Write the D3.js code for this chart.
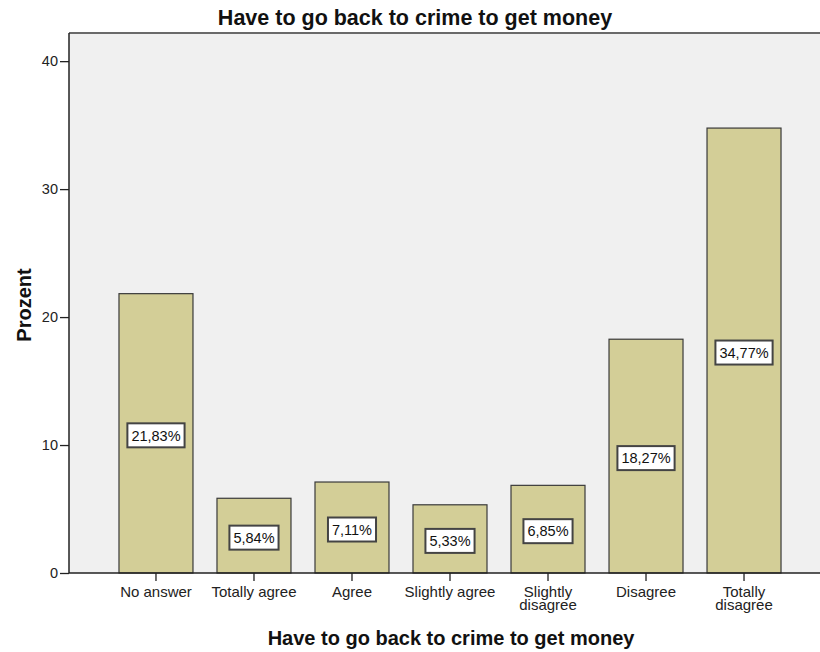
<!DOCTYPE html>
<html>
<head>
<meta charset="utf-8">
<script src="https://cdn.jsdelivr.net/npm/d3@7"></script>
<style>
body{margin:0;background:#fff;}
svg{display:block;font-family:"Liberation Sans",Arial,sans-serif;}
</style>
</head>
<body>
<svg id="chart" width="820" height="652"></svg>
<script>
const categories = ["No answer","Totally agree","Agree","Slightly agree","Slightly disagree","Disagree","Totally disagree"];
const categoryLines = [["No answer"],["Totally agree"],["Agree"],["Slightly agree"],["Slightly","disagree"],["Disagree"],["Totally","disagree"]];
const values = [21.83,5.84,7.11,5.33,6.85,18.27,34.77];
const valueLabels = ["21,83%","5,84%","7,11%","5,33%","6,85%","18,27%","34,77%"];
const yTicks = [0,10,20,30,40];
const title = "Have to go back to crime to get money";
const xTitle = "Have to go back to crime to get money";
const yTitle = "Prozent";

(function(){
const svg = d3.select("#chart");
const pLeft = 69, pRight = 831, pTop = 33, pBottom = 573;

const y = d3.scaleLinear().domain([0, 42.2]).range([pBottom, pTop]);
const x = d3.scaleBand().domain(categories).range([pLeft, pRight]).paddingInner(0.245).paddingOuter(0.51);

// plot background
svg.append("rect").attr("x", pLeft).attr("y", pTop).attr("width", pRight-pLeft).attr("height", pBottom-pTop).attr("fill", "#f0f0f0");
svg.append("line").attr("x1", pLeft).attr("x2", 820).attr("y1", pTop).attr("y2", pTop).attr("stroke", "#6a6a6a").attr("stroke-width", 2);

// bars
svg.selectAll("rect.bar").data(values).enter().append("rect")
  .attr("class","bar")
  .attr("x", (d,i)=>x(categories[i]))
  .attr("y", d=>y(d))
  .attr("width", x.bandwidth())
  .attr("height", d=>pBottom - y(d))
  .attr("fill", "#d3ce97")
  .attr("stroke", "#3a3a3a")
  .attr("stroke-width", 1.2);

// value labels
const lbl = svg.selectAll("g.lbl").data(values).enter().append("g").attr("class","lbl")
  .attr("transform", (d,i)=>`translate(${x(categories[i]) + x.bandwidth()/2},${(y(d)+pBottom)/2 + 2})`);
lbl.each(function(d,i){
  const g = d3.select(this);
  const t = g.append("text").attr("text-anchor","middle").attr("dy","0.36em").attr("font-size",14.5).attr("fill","#111").text(valueLabels[i]);
  const w = t.node().getComputedTextLength();
  g.insert("rect","text").attr("x", -w/2-4).attr("y", -12).attr("width", w+8).attr("height", 24)
    .attr("fill","#fff").attr("stroke","#444").attr("stroke-width",2);
});

// y axis
const yAxis = svg.append("g").attr("transform", `translate(${pLeft},0)`)
  .call(d3.axisLeft(y).tickValues(yTicks).tickSize(9).tickPadding(2).tickFormat(d3.format("d")));
yAxis.select(".domain").remove();
yAxis.selectAll(".tick line").attr("stroke","#222").attr("stroke-width",1.3);
yAxis.selectAll(".tick text").attr("font-size",14.5).attr("fill","#222").attr("font-family","Liberation Sans, Arial, sans-serif");
svg.append("line").attr("x1",pLeft).attr("x2",pLeft).attr("y1",pTop).attr("y2",pBottom).attr("stroke","#222").attr("stroke-width",1.5);

// x axis
const xAxis = svg.append("g").attr("transform", `translate(0,${pBottom})`)
  .call(d3.axisBottom(x).tickSize(8).tickFormat(""));
xAxis.select(".domain").remove();
xAxis.selectAll(".tick line").attr("stroke","#222").attr("stroke-width",1.3);
svg.append("line").attr("x1",pLeft).attr("x2",820).attr("y1",pBottom).attr("y2",pBottom).attr("stroke","#222").attr("stroke-width",1.5);

categories.forEach((c,i)=>{
  const t = svg.append("text").attr("text-anchor","middle").attr("font-size",15).attr("fill","#222")
    .attr("x", x(c)+x.bandwidth()/2).attr("y", 597);
  categoryLines[i].forEach((line,j)=>{
    t.append("tspan").attr("x", x(c)+x.bandwidth()/2).attr("dy", j===0?0:12.5).text(line);
  });
});

// titles
svg.append("text").attr("x",415).attr("y",25).attr("text-anchor","middle").attr("font-size",21.5).attr("font-weight","bold").attr("fill","#111").text(title);
svg.append("text").attr("x",451).attr("y",645).attr("text-anchor","middle").attr("font-size",20).attr("font-weight","bold").attr("fill","#111").text(xTitle);
svg.append("text").attr("transform","translate(31,305) rotate(-90)").attr("text-anchor","middle").attr("font-size",20).attr("font-weight","bold").attr("fill","#111").text(yTitle);
})();
</script>
</body>
</html>
